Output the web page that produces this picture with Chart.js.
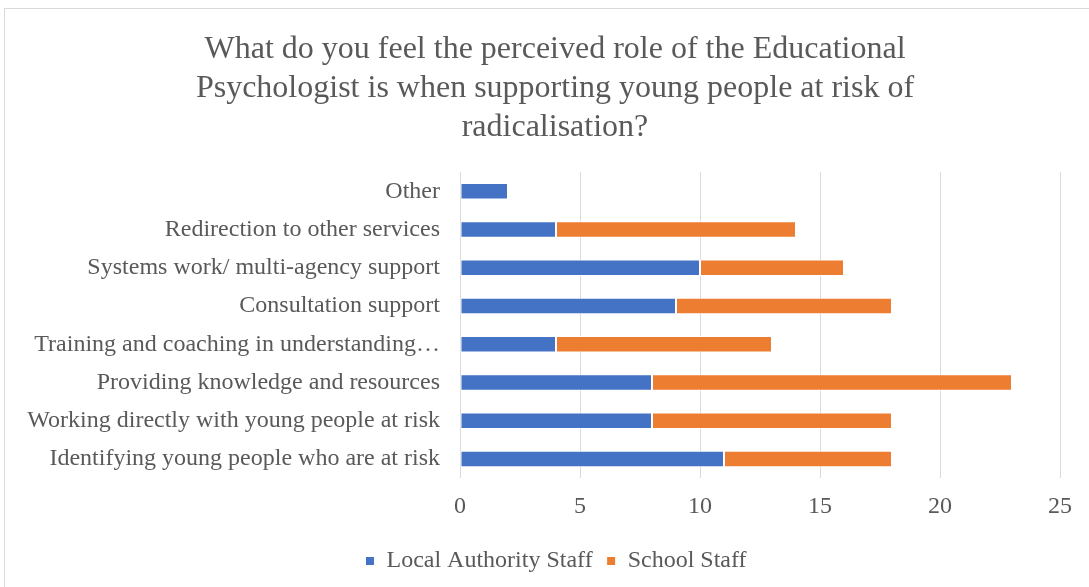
<!DOCTYPE html>
<html>
<head>
<meta charset="utf-8">
<script src="https://cdn.jsdelivr.net/npm/chart.js@4"></script>
<style>
  body { margin: 0; background: #fff; }
  #frame { position: absolute; left: 4px; top: 8px; width: 1100px; height: 600px; border: 1px solid #d9d9d9; }
  #wrap { position: absolute; left: 0; top: 0; width: 1089px; height: 587px; }
</style>
</head>
<body>
<div id="frame"></div>
<div id="wrap"><canvas id="chart"></canvas></div>
<script>
// categories top to bottom
const categories = [
  'Other',
  'Redirection to other services',
  'Systems work/ multi-agency support',
  'Consultation support',
  'Training and coaching in understanding\u2026',
  'Providing knowledge and resources',
  'Working directly with young people at risk',
  'Identifying young people who are at risk'
];
const localAuthority = [2, 4, 10, 9, 4, 8, 8, 11];
const schoolStaff = [0, 10, 6, 9, 9, 15, 10, 7];
const xTicks = [0, 5, 10, 15, 20, 25];

const serif = "'Liberation Serif', 'Times New Roman', serif";
const grey = '#595959';

// title and legend sit a bit right of the plot centre in the original
const nudge = {
  id: 'nudge',
  afterLayout(chart) {
    chart.titleBlock.left += 20;
    chart.titleBlock.right += 20;
    chart.legend.left += 21;
    chart.legend.right += 21;
  }
};

new Chart(document.getElementById('chart'), {
  type: 'bar',
  data: {
    labels: categories,
    datasets: [
      { label: 'Local Authority Staff', data: localAuthority, backgroundColor: '#4472c4', borderColor: '#ffffff', borderWidth: 1, borderSkipped: false },
      { label: 'School Staff', data: schoolStaff, backgroundColor: '#ed7d31', borderColor: '#ffffff', borderWidth: 1, borderSkipped: false }
    ]
  },
  options: {
    indexAxis: 'y',
    responsive: true,
    maintainAspectRatio: false,
    animation: false,
    barPercentage: 0.9,
    categoryPercentage: 0.48,
    layout: { padding: { top: 20, right: 29, left: 10, bottom: 4 } },
    plugins: {
      title: {
        display: true,
        text: ['What do you feel the perceived role of the Educational', 'Psychologist is when supporting young people at risk of', 'radicalisation?'],
        color: grey,
        font: { family: serif, size: 32, weight: 'normal', lineHeight: 1.22 },
        padding: { top: 10, bottom: 25 }
      },
      legend: {
        position: 'bottom',
        labels: {
          color: grey,
          font: { family: serif, size: 24 },
          boxWidth: 9,
          boxHeight: 9,
          padding: 14
        }
      },
      tooltip: { enabled: false }
    },
    scales: {
      x: {
        stacked: true,
        min: 0,
        max: 25,
        afterBuildTicks: axis => { axis.ticks = xTicks.map(v => ({ value: v })); },
        grid: { color: '#d9d9d9', lineWidth: 1, drawTicks: false },
        border: { display: false },
        ticks: { color: grey, font: { family: serif, size: 24 }, padding: 14 }
      },
      y: {
        stacked: true,
        grid: { display: false },
        border: { display: false },
        afterFit: axis => { axis.width = 450; },
        ticks: { color: grey, font: { family: serif, size: 24 }, padding: 12, autoSkip: false }
      }
    }
  },
  plugins: [nudge]
});
</script>
</body>
</html>
